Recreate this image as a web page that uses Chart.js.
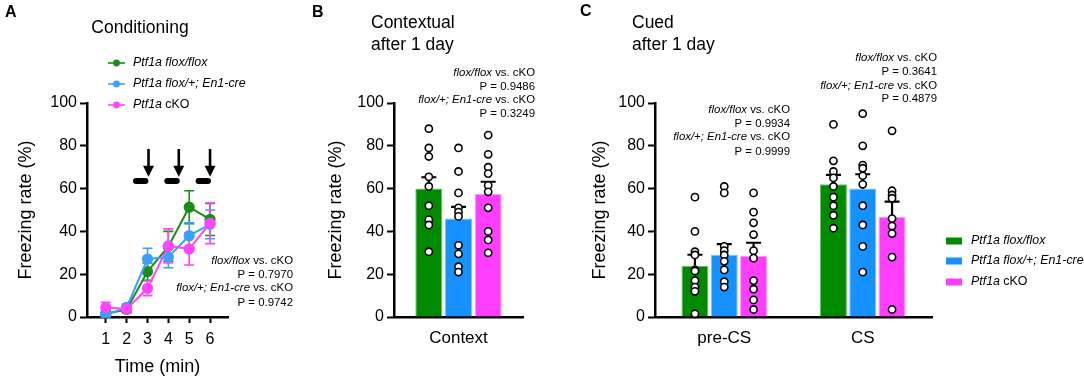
<!DOCTYPE html>
<html>
<head>
<meta charset="utf-8">
<script src="https://cdn.jsdelivr.net/npm/chart.js@4.4.0/dist/chart.umd.min.js"></script>
<style>
body { margin:0; background:#fff; width:1084px; height:381px; position:relative; overflow:hidden; }
canvas { position:absolute; top:0; }
</style>
</head>
<body>
<canvas id="cA" width="300" height="381" style="left:0;width:300px;height:381px"></canvas>
<canvas id="cB" width="260" height="381" style="left:300px;width:260px;height:381px"></canvas>
<canvas id="cC" width="524" height="381" style="left:560px;width:524px;height:381px"></canvas>
<script>
// ---- data ----
const groupNames = ['flox/flox', 'flox/+; En1-cre', 'cKO'];

// A: conditioning, mean +/- SEM per minute
const timeMin = [1, 2, 3, 4, 5, 6];
const condFloxMean = [1.5, 3.5, 21.2, 33.0, 51.3, 45.6];
const condFloxSem  = [1.5, 1.5, 4.0, 7.0, 7.7, 7.5];
const condHetMean  = [1.0, 4.5, 27.1, 28.0, 38.0, 43.3];
const condHetSem   = [1.0, 1.5, 5.0, 5.0, 6.0, 6.7];
const condCkoMean  = [4.4, 3.7, 13.4, 33.2, 31.8, 43.8];
const condCkoSem   = [2.5, 1.5, 3.4, 8.0, 7.5, 9.5];
// tone (bars) and shock (arrows), in minutes / %
const toneStart = [2.45, 3.95, 5.45];
const toneEnd   = [2.9, 4.4, 5.9];
const shockAt   = [3.05, 4.5, 6.0];
const toneLevel = 63.5, shockTop = 78.5, shockTip = 65.5;
const condP = ['0.7970', '0.9742'];

// B: contextual test
const ctxLabels = ['Context'];
const ctxFloxMean = [60.0], ctxFloxSem = [5.3];
const ctxHetMean  = [46.0], ctxHetSem  = [5.5];
const ctxCkoMean  = [57.5], ctxCkoSem  = [5.7];
const ctxFloxPts = [[88, 79, 75, 65.5, 61, 52, 45.5, 43, 30.5]];
const ctxHetPts  = [[79, 68, 58, 51, 49, 47, 33.5, 29.5, 23.5, 21]];
const ctxCkoPts  = [[85, 76, 70, 67, 61.5, 58.5, 51, 40, 36, 30]];
const ctxP = ['0.9486', '0.3249'];

// C: cued test
const cueLabels = ['pre-CS', 'CS'];
const cueFloxMean = [24.0, 62.0], cueFloxSem = [5.1, 4.4];
const cueHetMean  = [29.1, 60.0], cueHetSem  = [5.0, 6.7];
const cueCkoMean  = [28.5, 46.9], cueCkoSem  = [6.2, 7.0];
const cueFloxPts = [[56, 40, 30.5, 29, 22, 21.5, 17, 14, 12, 1.5], [90, 73, 68, 65, 61, 56, 52, 47.5, 41.5]];
const cueHetPts  = [[61, 58, 33, 31, 29, 26, 22, 16.5, 14], [95, 80, 71, 69.5, 66, 62, 52, 43, 33, 21]];
const cueCkoPts  = [[58, 49, 44, 38.5, 31, 27.5, 17, 13, 8, 3.5], [87, 59, 57, 55.5, 46, 42.5, 39, 28, 3.5]];
const cuePreP = ['0.9934', '0.9999'];
const cueCsP  = ['0.3641', '0.4879'];

// ---- styles ----
const FAM = '"Liberation Sans", Arial, Helvetica, sans-serif';
const barFill   = ['#008a00', '#1592ff', '#ff3dff'];
const barEdge   = ['#6cbf6c', '#7cc2ff', '#ff9cff'];
const lineColor = ['#1a8c1a', '#3aa0ff', '#ff45ff'];

Chart.defaults.font.family = FAM;
Chart.defaults.color = '#000';
Chart.defaults.animation = false;

// draw a line of text made of [text, italic] parts
function richText(ctx, parts, x, y, align, size, weight) {
  const fonts = parts.map(p => (p[1] ? 'italic ' : '') + (weight || '') + ' ' + size + 'px ' + FAM);
  const widths = parts.map((p, i) => { ctx.font = fonts[i]; return ctx.measureText(p[0]).width; });
  const total = widths.reduce((a, b) => a + b, 0);
  let cx = align === 'right' ? x - total : align === 'center' ? x - total / 2 : x;
  ctx.textBaseline = 'middle';
  ctx.textAlign = 'left';
  ctx.fillStyle = '#000';
  parts.forEach((p, i) => { ctx.font = fonts[i]; ctx.fillText(p[0], cx, y); cx += widths[i]; });
}

function statLines(pv) {
  return [
    [[groupNames[0], 1], [' vs. cKO', 0]],
    [['P = ' + pv[0], 0]],
    [[groupNames[1], 1], [' vs. cKO', 0]],
    [['P = ' + pv[1], 0]]
  ];
}

function yAxis(width, titlePad) {
  return {
    min: 0, max: 100,
    afterFit: s => { s.width = width; },
    ticks: { stepSize: 20, font: { size: 16 }, padding: 3, color: '#000' },
    grid: { display: true, drawOnChartArea: false, drawTicks: true, tickLength: 7, tickWidth: 2, tickColor: '#000' },
    border: { display: true, color: '#000', width: 2.5 },
    title: { display: true, text: 'Freezing rate (%)', font: { size: 18 }, color: '#000', padding: { top: titlePad, bottom: 0 } }
  };
}

// panel texts (letters, titles, stats)
const textPlugin = {
  id: 'texts',
  afterDraw(chart, args, opts) {
    const ctx = chart.ctx;
    ctx.save();
    (opts.items || []).forEach(it => richText(ctx, it.parts, it.x, it.y, it.align, it.size, it.weight));
    ctx.restore();
  }
};

// error bars (up) and individual points on bars
const barExtras = {
  id: 'barExtras',
  afterDatasetsDraw(chart) {
    const ctx = chart.ctx, y = chart.scales.y;
    ctx.save();
    chart.data.datasets.forEach((ds, di) => {
      const meta = chart.getDatasetMeta(di);
      meta.data.forEach((bar, i) => {
        const top = y.getPixelForValue(ds.data[i] + ds.sem[i]);
        ctx.strokeStyle = '#000';
        ctx.lineWidth = 2.2;
        ctx.beginPath();
        ctx.moveTo(bar.x, bar.y); ctx.lineTo(bar.x, top);
        ctx.moveTo(bar.x - 7.5, top); ctx.lineTo(bar.x + 7.5, top);
        ctx.stroke();
      });
      meta.data.forEach((bar, i) => {
        ds.points[i].forEach(v => {
          ctx.beginPath();
          ctx.arc(bar.x, y.getPixelForValue(v), 3.6, 0, Math.PI * 2);
          ctx.fillStyle = '#fff'; ctx.fill();
          ctx.lineWidth = 1.6; ctx.strokeStyle = '#000'; ctx.stroke();
        });
      });
    });
    ctx.restore();
  }
};

// conditioning: SEM whiskers, tone bars, shock arrows, legend
const condExtras = {
  id: 'condExtras',
  beforeDatasetsDraw(chart) {
    const ctx = chart.ctx, xs = chart.scales.x, ys = chart.scales.y;
    ctx.save();
    chart.data.datasets.forEach(ds => {
      ctx.strokeStyle = ds.borderColor;
      ctx.lineWidth = 1.6;
      ds.mean.forEach((m, i) => {
        const px = xs.getPixelForValue(timeMin[i]);
        const hi = ys.getPixelForValue(m + ds.sem[i]), lo = ys.getPixelForValue(m - ds.sem[i]);
        ctx.beginPath();
        ctx.moveTo(px, hi); ctx.lineTo(px, lo);
        ctx.moveTo(px - 5, hi); ctx.lineTo(px + 5, hi);
        ctx.moveTo(px - 5, lo); ctx.lineTo(px + 5, lo);
        ctx.stroke();
      });
    });
    ctx.restore();
  },
  afterDatasetsDraw(chart) {
    const ctx = chart.ctx, xs = chart.scales.x, ys = chart.scales.y;
    ctx.save();
    ctx.strokeStyle = '#000'; ctx.fillStyle = '#000';
    ctx.lineCap = 'round'; ctx.lineWidth = 6;
    toneStart.forEach((t, i) => {
      const yy = ys.getPixelForValue(toneLevel);
      ctx.beginPath();
      ctx.moveTo(xs.getPixelForValue(t), yy);
      ctx.lineTo(xs.getPixelForValue(toneEnd[i]), yy);
      ctx.stroke();
    });
    ctx.lineCap = 'butt'; ctx.lineWidth = 2.6;
    shockAt.forEach(s => {
      const px = xs.getPixelForValue(s);
      const tip = ys.getPixelForValue(shockTip);
      ctx.beginPath();
      ctx.moveTo(px, ys.getPixelForValue(shockTop)); ctx.lineTo(px, tip - 9);
      ctx.stroke();
      ctx.beginPath();
      ctx.moveTo(px - 5.5, tip - 11); ctx.lineTo(px + 5.5, tip - 11); ctx.lineTo(px, tip);
      ctx.closePath(); ctx.fill();
    });
    // legend
    const rows = [63, 84, 105];
    chart.data.datasets.forEach((ds, i) => {
      ctx.strokeStyle = ds.borderColor; ctx.fillStyle = ds.borderColor; ctx.lineWidth = 1.6;
      ctx.beginPath(); ctx.moveTo(108, rows[i]); ctx.lineTo(125, rows[i]); ctx.stroke();
      ctx.beginPath(); ctx.arc(116.5, rows[i], 3.4, 0, Math.PI * 2); ctx.fill();
      richText(ctx, ds.legendParts, 133, rows[i], 'left', 12.4);
    });
    ctx.restore();
  }
};

const legendParts = [
  [['Ptf1a ' + groupNames[0], 1]],
  [['Ptf1a ' + groupNames[1], 1]],
  [['Ptf1a', 1], [' ' + groupNames[2], 0]]
];

// bar legend for panel C
const barLegend = {
  id: 'barLegend',
  afterDraw(chart) {
    const ctx = chart.ctx;
    const rows = [241, 261, 282];
    ctx.save();
    chart.data.datasets.forEach((ds, i) => {
      ctx.fillStyle = ds.backgroundColor;
      ctx.fillRect(386, rows[i] - 3.5, 16, 7);
      richText(ctx, legendParts[i], 411, rows[i], 'left', 12.4);
    });
    ctx.restore();
  }
};

function statItems(pv, xr, ys) {
  return statLines(pv).map((parts, i) => ({ parts, x: xr, y: ys[i], align: 'right', size: 11.4 }));
}

// ---- Panel A ----
const condSets = [
  [condFloxMean, condFloxSem], [condHetMean, condHetSem], [condCkoMean, condCkoSem]
].map((d, i) => ({
  label: legendParts[i].map(p => p[0]).join(''),
  data: d[0].map((v, k) => ({ x: timeMin[k], y: v })),
  mean: d[0], sem: d[1], legendParts: legendParts[i],
  borderColor: lineColor[i], backgroundColor: lineColor[i],
  pointBackgroundColor: lineColor[i], pointBorderColor: lineColor[i],
  pointRadius: 4.6, borderWidth: 2, tension: 0, order: 2 - i
}));

new Chart(document.getElementById('cA'), {
  type: 'line',
  data: { datasets: condSets },
  plugins: [condExtras, textPlugin],
  options: {
    responsive: false,
    layout: { autoPadding: false, padding: { left: 0, top: 103, right: 72, bottom: 0 } },
    plugins: {
      legend: { display: false }, tooltip: { enabled: false },
      texts: { items: [
        { parts: [['A', 0]], x: 5, y: 13, align: 'left', size: 16, weight: 'bold' },
        { parts: [['Conditioning', 0]], x: 140, y: 28, align: 'center', size: 17.5 }
      ].concat(statItems(condP, 293, [261, 275, 288, 303])) }
    },
    scales: {
      x: {
        type: 'linear', min: 0.1, max: 6.86,
        afterFit: s => { s.height = 64; },
        afterBuildTicks: s => { s.ticks = timeMin.map(v => ({ value: v })); },
        ticks: { font: { size: 16 }, padding: 7, color: '#000' },
        grid: { display: true, drawOnChartArea: false, drawTicks: true, tickLength: 6, tickWidth: 2, tickColor: '#000' },
        border: { display: true, color: '#000', width: 2.5 },
        title: { display: true, text: 'Time (min)', font: { size: 18 }, color: '#000', padding: { top: 0, bottom: 3 } }
      },
      y: yAxis(87, 15)
    }
  }
});

// ---- bar panels ----
function barSets(means, sems, pts) {
  return means.map((m, i) => ({
    label: legendParts[i].map(p => p[0]).join(''),
    data: m, sem: sems[i], points: pts[i],
    backgroundColor: barFill[i], borderColor: barEdge[i], borderWidth: 1
  }));
}

function barOptions(yw, titlePad, padRight, catPct, barPct, texts) {
  return {
    responsive: false,
    layout: { autoPadding: false, padding: { left: 0, top: 103, right: padRight, bottom: 0 } },
    datasets: { bar: { categoryPercentage: catPct, barPercentage: barPct } },
    plugins: { legend: { display: false }, tooltip: { enabled: false }, texts: { items: texts } },
    scales: {
      x: {
        afterFit: s => { s.height = 64; },
        ticks: { font: { size: 17 }, padding: 3, color: '#000' },
        grid: { display: false },
        border: { display: true, color: '#000', width: 2.5 }
      },
      y: yAxis(yw, titlePad)
    }
  };
}

new Chart(document.getElementById('cB'), {
  type: 'bar',
  data: { labels: ctxLabels, datasets: barSets([ctxFloxMean, ctxHetMean, ctxCkoMean], [ctxFloxSem, ctxHetSem, ctxCkoSem], [ctxFloxPts, ctxHetPts, ctxCkoPts]) },
  plugins: [barExtras, textPlugin],
  options: barOptions(94, 25, 37, 0.69, 0.91, [
    { parts: [['B', 0]], x: 12, y: 13, align: 'left', size: 16, weight: 'bold' },
    { parts: [['Contextual', 0]], x: 71, y: 23, align: 'left', size: 17.5 },
    { parts: [['after 1 day', 0]], x: 71, y: 45, align: 'left', size: 17.5 }
  ].concat(statItems(ctxP, 235, [73, 87, 100, 114])))
});

new Chart(document.getElementById('cC'), {
  type: 'bar',
  data: { labels: cueLabels, datasets: barSets([cueFloxMean, cueHetMean, cueCkoMean], [cueFloxSem, cueHetSem, cueCkoSem], [cueFloxPts, cueHetPts, cueCkoPts]) },
  plugins: [barExtras, textPlugin, barLegend],
  options: barOptions(95, 29, 152, 0.635, 0.92, [
    { parts: [['C', 0]], x: 20, y: 12, align: 'left', size: 16, weight: 'bold' },
    { parts: [['Cued', 0]], x: 72, y: 23, align: 'left', size: 17.5 },
    { parts: [['after 1 day', 0]], x: 72, y: 45, align: 'left', size: 17.5 }
  ].concat(statItems(cuePreP, 230, [110, 124, 137, 152]))
   .concat(statItems(cueCsP, 377, [58, 72, 86, 99])))
});
</script>
</body>
</html>
